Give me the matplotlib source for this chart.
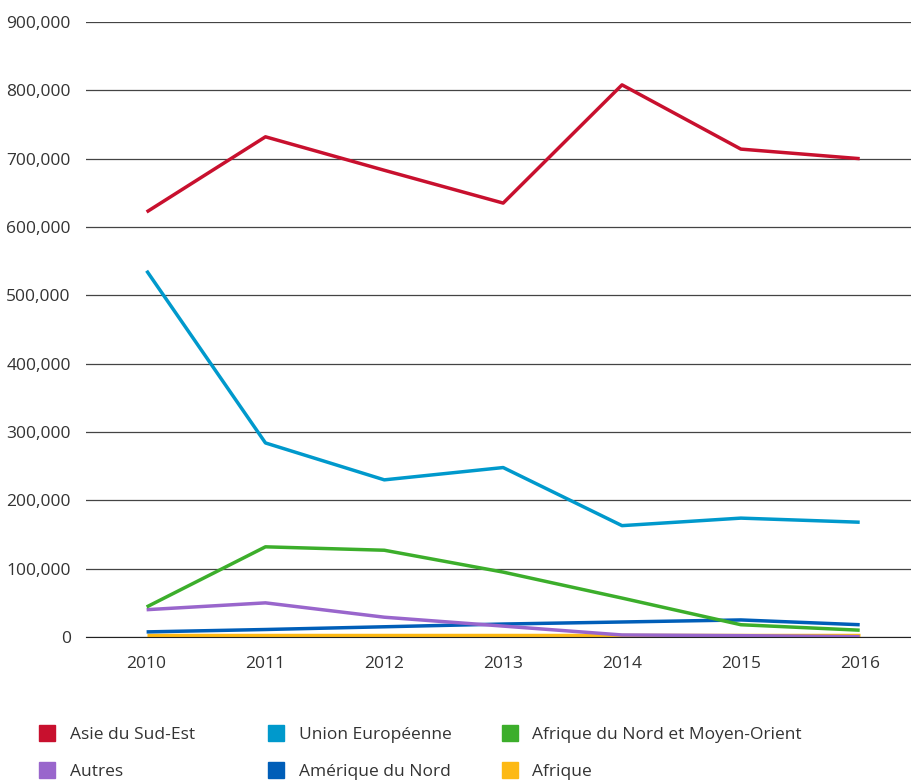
import matplotlib.pyplot as plt
from matplotlib.lines import Line2D
from matplotlib.ticker import FuncFormatter

plt.rcParams['font.family'] = ['Open Sans', 'DejaVu Sans']

years = [2010, 2011, 2012, 2013, 2014, 2015, 2016]
asie = [622000, 732000, 683000, 635000, 808000, 714000, 700000]
ue = [536000, 284000, 230000, 248000, 163000, 174000, 168000]
afn = [44000, 132000, 127000, 95000, 57000, 18000, 10000]
autres = [40000, 50000, 29000, 16000, 3000, 2000, 500]
amn = [7500, 11000, 15000, 19000, 22000, 25000, 18000]
afrique = [3000, 3000, 3000, 3000, 3000, 3000, 3000]

series = [
    ("Asie du Sud-Est", asie, "#c8102e"),
    ("Union Européenne", ue, "#0099cc"),
    ("Afrique du Nord et Moyen-Orient", afn, "#3cae2b"),
    ("Autres", autres, "#9966cc"),
    ("Amérique du Nord", amn, "#005eb8"),
    ("Afrique", afrique, "#fdb913"),
]

fig = plt.figure(figsize=(9.12, 7.8), dpi=100)
ax = fig.add_axes([0.0943, 0.1833, 0.9057, 0.7885])

# draw bottom ones last so order matches
for name, vals, col in reversed(series):
    ax.plot(years, vals, color=col, lw=2.5, solid_capstyle='butt')

ax.set_ylim(0, 900000)
ax.set_xlim(2009.49, 2016.44)
ax.set_yticks(range(0, 900001, 100000))
ax.set_xticks(years)
ax.yaxis.set_major_formatter(FuncFormatter(lambda v, p: f"{int(v):,}"))
ax.grid(axis='y', color='#444444', lw=0.9)
ax.set_axisbelow(True)
for s in ['top', 'right', 'left']:
    ax.spines[s].set_visible(False)
ax.spines['bottom'].set_color('#222222')
ax.tick_params(length=0, labelsize=12.5, colors='#333333')
ax.tick_params(axis='x', pad=14)
ax.tick_params(axis='y', pad=11)

# legend: one small legend per column, two rows each
col_x = [0.0325, 0.2836, 0.540]
for c in range(3):
    items = [series[c], series[c + 3]]
    handles = [Line2D([], [], marker='s', ls='none', markersize=11, color=it[2])
               for it in items]
    leg = fig.legend(handles, [it[0] for it in items], loc='upper left',
                     bbox_to_anchor=(col_x[c], 0.068), frameon=False,
                     fontsize=12.5, handletextpad=0.3, labelspacing=1.2,
                     borderpad=0, borderaxespad=0, labelcolor='#333333')

plt.savefig("out.png", dpi=100)
